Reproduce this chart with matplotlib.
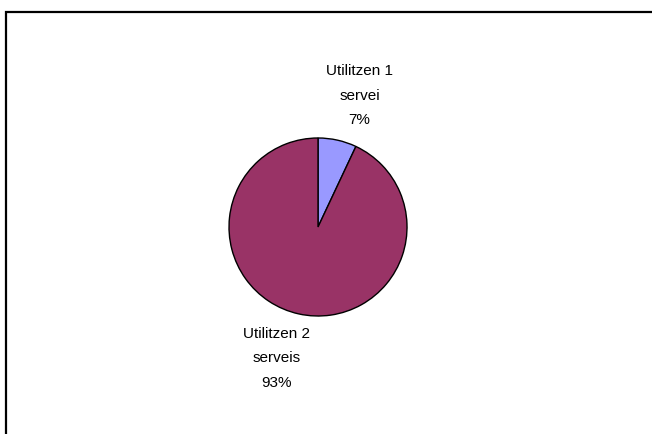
import numpy as np
import matplotlib.pyplot as plt
from matplotlib.patches import Rectangle

# data
names = ['Utilitzen 1\nservei', 'Utilitzen 2\nserveis']
shares = [7, 93]
colors = ['#9999FF', '#993366']

labels = [f'{n}\n{s}%' for n, s in zip(names, shares)]

plt.rcParams['font.family'] = ['Liberation Sans', 'DejaVu Sans']

fig = plt.figure(figsize=(6.52, 4.34), dpi=100)
fig.patch.set_facecolor('white')

# pie is 2.5 radii wide inside its axes (matplotlib sets limits to +-1.25)
ax = fig.add_axes([0.3171, 0.2206, 0.3413, 0.5127])
wedges, texts = ax.pie(shares, labels=labels, colors=colors, startangle=90,
                       counterclock=False, labeldistance=1.545,
                       wedgeprops={'edgecolor': 'black', 'linewidth': 1.0},
                       textprops={'ha': 'center', 'va': 'center', 'fontsize': 11,
                                  'linespacing': 1.95, 'color': 'black'})

# Excel places the labels a little clockwise of the slice middle
rot = np.deg2rad(-5)
for t in texts:
    x, y = t.get_position()
    t.set_position((x * np.cos(rot) - y * np.sin(rot),
                    x * np.sin(rot) + y * np.cos(rot)))

# chart area frame (only top and left edges are visible in the crop)
frame = Rectangle((5.5 / 652, -0.1), 1.2, (434 - 12) / 434 + 0.1,
                  transform=fig.transFigure, fill=False, edgecolor='black',
                  linewidth=1.6, clip_on=False)
fig.patches.append(frame)

plt.savefig('out.png', dpi=100)
